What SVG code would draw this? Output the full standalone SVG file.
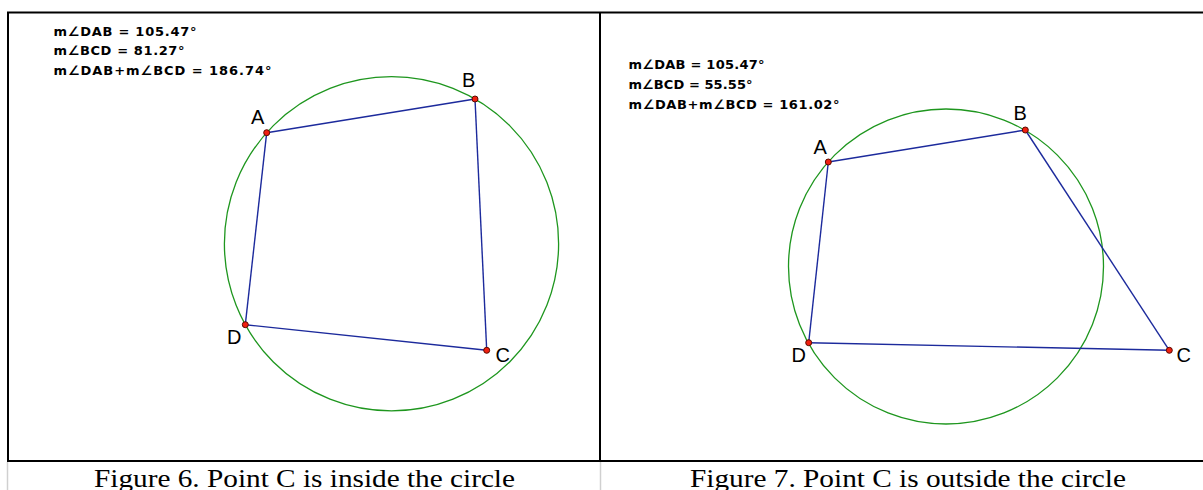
<svg xmlns="http://www.w3.org/2000/svg" width="1203" height="490" viewBox="0 0 1203 490">
<style>
.frame{stroke:#000;stroke-width:2;fill:none}
.cell{stroke:#d0d0d0;stroke-width:1.5;fill:none}
.circ{stroke:#1e961e;stroke-width:1.3;fill:none}
.seg{stroke:#1c2a9c;stroke-width:1.4;fill:none}
.pt{fill:#f02010;stroke:#5a0a00;stroke-width:1}
.meas{font-family:"DejaVu Sans",sans-serif;font-weight:bold;font-size:13px;fill:#000}
.lbl{font-family:"Liberation Sans",Arial,sans-serif;font-size:20px;fill:#000}
.cap{font-family:"Liberation Serif","Times New Roman",serif;font-size:25px;fill:#000;text-anchor:middle}
</style>
<rect width="1203" height="490" fill="#fff"/>
<g id="frame">
<line class="frame" x1="7" y1="12.5" x2="1203" y2="12.5"/>
<line class="frame" x1="7" y1="461" x2="1203" y2="461"/>
<line class="frame" x1="8" y1="12" x2="8" y2="461"/>
<line class="frame" x1="600" y1="12" x2="600" y2="461"/>
<line class="cell" x1="7.5" y1="462" x2="7.5" y2="490"/>
<line class="cell" x1="600.5" y1="462" x2="600.5" y2="490"/>
</g>
<g id="fig6">
<g id="fig6-measures">
<text class="meas" x="53.5" y="35.5" textLength="143" lengthAdjust="spacing">m∠DAB = 105.47°</text>
<text class="meas" x="53.5" y="55" textLength="131" lengthAdjust="spacing">m∠BCD = 81.27°</text>
<text class="meas" x="53.5" y="74.5" textLength="218" lengthAdjust="spacing">m∠DAB+m∠BCD = 186.74°</text>
</g>
<circle id="fig6-circle" class="circ" cx="391.5" cy="243.8" r="167.1"/>
<g id="fig6-connectors">
<line class="seg" x1="266.7" y1="132.7" x2="475" y2="99"/>
<line class="seg" x1="475" y1="99" x2="486.7" y2="350.3"/>
<line class="seg" x1="486.7" y1="350.3" x2="245.3" y2="324.7"/>
<line class="seg" x1="245.3" y1="324.7" x2="266.7" y2="132.7"/>
</g>
<g id="fig6-A"><circle class="pt" cx="266.7" cy="132.7" r="3"/><text class="lbl" x="251" y="124">A</text></g>
<g id="fig6-B"><circle class="pt" cx="475" cy="99" r="3"/><text class="lbl" x="462" y="87">B</text></g>
<g id="fig6-C"><circle class="pt" cx="486.7" cy="350.3" r="3"/><text class="lbl" x="495.5" y="362">C</text></g>
<g id="fig6-D"><circle class="pt" cx="245.3" cy="324.7" r="3"/><text class="lbl" x="227" y="344">D</text></g>
<text class="cap" x="304.5" y="487" textLength="421" lengthAdjust="spacingAndGlyphs">Figure 6. Point C is inside the circle</text>
</g>
<g id="fig7">
<g id="fig7-measures">
<text class="meas" x="628.5" y="69" textLength="136" lengthAdjust="spacing">m∠DAB = 105.47°</text>
<text class="meas" x="628.5" y="89" textLength="124" lengthAdjust="spacing">m∠BCD = 55.55°</text>
<text class="meas" x="628.5" y="108.5" textLength="211" lengthAdjust="spacing">m∠DAB+m∠BCD = 161.02°</text>
</g>
<circle id="fig7-circle" class="circ" cx="946" cy="266.5" r="157.5"/>
<g id="fig7-connectors">
<line class="seg" x1="828.3" y1="162" x2="1025.3" y2="130"/>
<line class="seg" x1="1025.3" y1="130" x2="1169.3" y2="350.3"/>
<line class="seg" x1="1169.3" y1="350.3" x2="808.7" y2="342.7"/>
<line class="seg" x1="808.7" y1="342.7" x2="828.3" y2="162"/>
</g>
<g id="fig7-A"><circle class="pt" cx="828.3" cy="162" r="3"/><text class="lbl" x="813.5" y="154">A</text></g>
<g id="fig7-B"><circle class="pt" cx="1025.3" cy="130" r="3"/><text class="lbl" x="1013.5" y="120">B</text></g>
<g id="fig7-C"><circle class="pt" cx="1169.3" cy="350.3" r="3"/><text class="lbl" x="1176.5" y="361.5">C</text></g>
<g id="fig7-D"><circle class="pt" cx="808.7" cy="342.7" r="3"/><text class="lbl" x="791.5" y="361.5">D</text></g>
<text class="cap" x="908" y="487" textLength="436" lengthAdjust="spacingAndGlyphs">Figure 7. Point C is outside the circle</text>
</g>
</svg>
